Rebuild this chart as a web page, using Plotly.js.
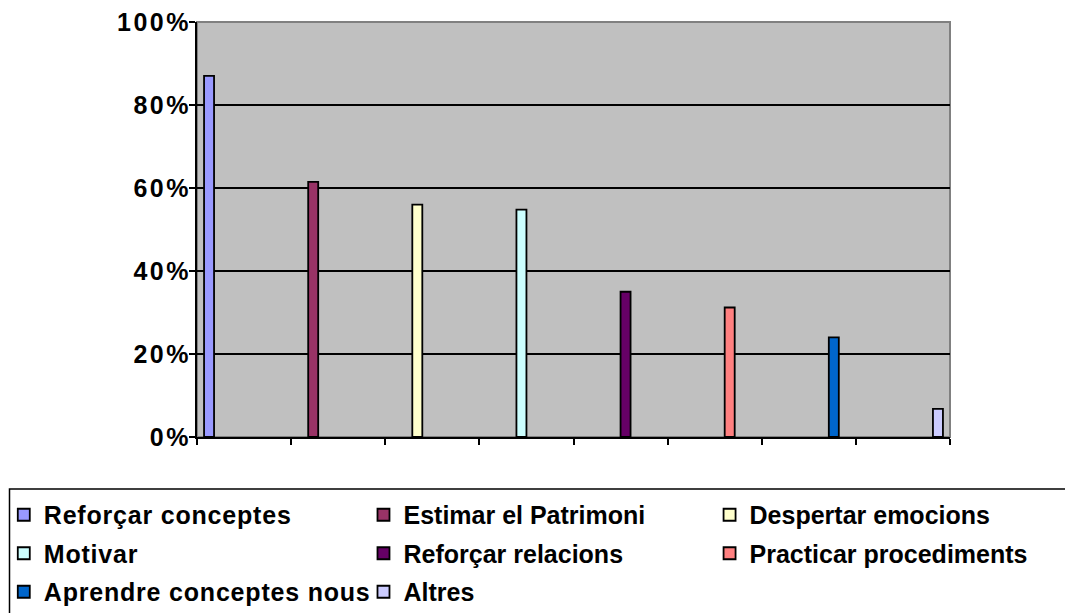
<!DOCTYPE html>
<html>
<head>
<meta charset="utf-8">
<script src="https://cdn.plot.ly/plotly-3.0.1.min.js"></script>
<style>
html,body{margin:0;padding:0;background:#fff;}
#chart{width:1065px;height:613px;}
.yaxislayer-above text{letter-spacing:2.5px;}
.legendtext{letter-spacing:0.8px;}
</style>
</head>
<body>
<div id="chart"></div>
<script>
const categories = ['Reforçar conceptes','Estimar el Patrimoni','Despertar emocions','Motivar','Reforçar relacions','Practicar procediments','Aprendre conceptes nous','Altres'];
const values = [0.87, 0.615, 0.56, 0.548, 0.35, 0.312, 0.24, 0.068];
const colors = ['#9999FF','#993366','#FFFFCC','#CCFFFF','#660066','#FF8080','#0066CC','#CCCCFF'];
const legendColumn = ['legend','legend2','legend3','legend','legend2','legend3','legend','legend2'];

const traces = categories.map((name, i) => ({
  type: 'bar',
  name: name,
  x: categories,
  y: categories.map((c, j) => (j === i ? values[i] : null)),
  marker: {color: colors[i], line: {color: '#000000', width: 1.8}},
  legend: legendColumn[i],
  legendgroup: 'g' + i,
  hoverinfo: 'name+y'
}));

const legendFont = {family: 'Liberation Sans, Arial, sans-serif', size: 25, color: '#000', weight: 'bold'};
function legendAt(xp) {
  return {x: xp, xanchor: 'left', y: -0.1325, yanchor: 'top', orientation: 'v',
          font: legendFont, bgcolor: 'rgba(0,0,0,0)', borderwidth: 0, tracegroupgap: 3,
          itemclick: false, itemdoubleclick: false};
}

const layout = {
  width: 1065, height: 613,
  margin: {l: 197, r: 115, t: 22, b: 176, autoexpand: false},
  paper_bgcolor: '#ffffff',
  plot_bgcolor: '#C0C0C0',
  barmode: 'group',
  bargap: 0.15,
  bargroupgap: 0,
  xaxis: {
    type: 'category',
    showticklabels: false,
    ticks: 'outside', ticklen: 6, tickwidth: 1.5, tickcolor: '#000',
    tickson: 'boundaries',
    showgrid: false,
    showline: true, linecolor: '#000', linewidth: 2,
    fixedrange: true
  },
  yaxis: {
    range: [0, 1],
    dtick: 0.2,
    tickformat: '.0%',
    ticks: 'outside', ticklen: 6, tickwidth: 1.5, tickcolor: '#000',
    ticklabelstandoff: -7,
    tickfont: {family: 'Liberation Sans, Arial, sans-serif', size: 25, color: '#000', weight: 'bold'},
    showgrid: true, gridcolor: '#000', gridwidth: 1.5,
    zeroline: false,
    showline: true, linecolor: '#000', linewidth: 2,
    fixedrange: true
  },
  showlegend: true,
  legend: legendAt(-0.2566),
  legend2: legendAt(0.2211),
  legend3: legendAt(0.6807),
  shapes: [
    {type: 'rect', xref: 'paper', yref: 'paper', x0: 0, x1: 1, y0: 0, y1: 1,
     line: {color: '#808080', width: 2}, fillcolor: 'rgba(0,0,0,0)', layer: 'below'},
    {type: 'rect', xref: 'paper', yref: 'paper', x0: -0.249, x1: 1.17, y0: -0.1253, y1: -0.46,
     line: {color: '#000', width: 1.5}, fillcolor: 'rgba(0,0,0,0)', layer: 'above'}
  ]
};

Plotly.newPlot('chart', traces, layout, {displayModeBar: false});
</script>
</body>
</html>
